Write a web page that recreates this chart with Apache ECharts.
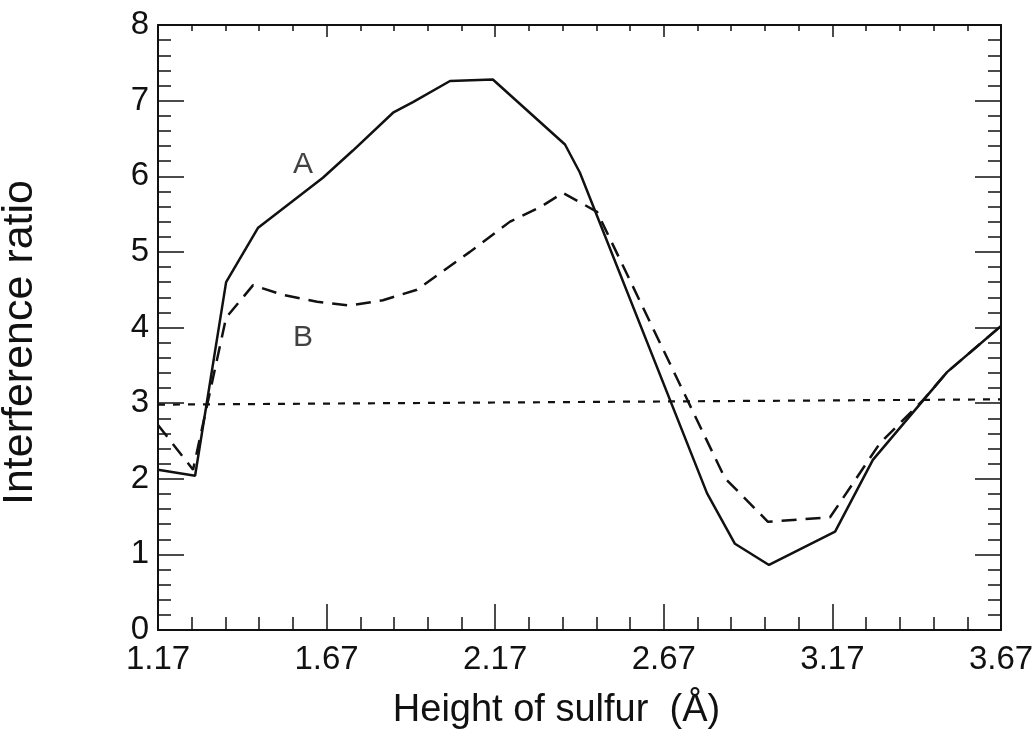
<!DOCTYPE html>
<html>
<head>
<meta charset="utf-8">
<title>Interference ratio</title>
<script src="https://cdn.jsdelivr.net/npm/echarts@6/dist/echarts.min.js"></script>
<style>
    html, body { margin: 0; padding: 0; background: #fff; }
    #main { width: 1033px; height: 748px; }
</style>
</head>
<body>
<div id="main"></div>
<script>
// curve A (solid), [height, ratio]
var curveA = [
    [1.17, 2.12], [1.28, 2.04], [1.372, 4.60], [1.467, 5.32], [1.659, 5.98],
    [1.748, 6.34], [1.867, 6.84], [1.926, 6.98], [2.036, 7.26], [2.163, 7.28],
    [2.377, 6.42], [2.421, 6.05], [2.798, 1.81], [2.881, 1.14], [2.982, 0.86],
    [3.178, 1.30], [3.29, 2.25], [3.51, 3.41], [3.67, 4.02]
];
// curve B (dashed)
var curveB = [
    [1.17, 2.71], [1.274, 2.12], [1.372, 4.13], [1.452, 4.56], [1.541, 4.43],
    [1.642, 4.34], [1.739, 4.29], [1.837, 4.36], [1.938, 4.50], [2.095, 5.00],
    [2.214, 5.40], [2.303, 5.59], [2.371, 5.78], [2.472, 5.53], [2.851, 2.01],
    [2.979, 1.43], [3.163, 1.49], [3.311, 2.47], [3.439, 3.04], [3.51, 3.41],
    [3.67, 4.02]
];
// dotted reference line near ratio 3
var refLine = [[1.17, 2.98], [3.67, 3.05]];
// curve names placed on the plot
var curveTags = [
    { name: 'A', value: [1.60, 6.15] },
    { name: 'B', value: [1.60, 3.86] }
];

var fontFamily = '"Liberation Sans", Arial, Helvetica, sans-serif';
var ink = '#111';

var myChart = echarts.init(document.getElementById('main'));

// one side of the box: bottom/left carry labels, top gets short ticks
function frameAxis(isX, pos, showLabel, longTicks) {
    var axis = {
        type: 'value',
        position: pos,
        axisLine: { show: true, onZero: false, lineStyle: { color: ink, width: 2 } },
        axisTick: { show: true, inside: true, length: longTicks ? 26 : 12, lineStyle: { color: ink, width: 1.5 } },
        minorTick: { show: true, splitNumber: 5, length: longTicks ? 13 : 6, lineStyle: { color: ink, width: 1.5 } },
        splitLine: { show: false },
        axisLabel: { show: showLabel, color: ink, fontFamily: fontFamily, fontSize: 33 }
    };
    if (isX) {
        axis.min = 1.17;
        axis.max = 3.67;
        axis.interval = 0.5;
        axis.axisLabel.margin = 13;
        axis.axisLabel.formatter = function (v) { return v.toFixed(2); };
    } else {
        axis.min = 0;
        axis.max = 8;
        axis.interval = 1;
        axis.axisLabel.margin = 9;
    }
    return axis;
}

var xBottom = frameAxis(true, 'bottom', true, true);
xBottom.name = 'Height of sulfur  (Å)';
xBottom.nameLocation = 'middle';
xBottom.nameGap = 62;
xBottom.nameTextStyle = { color: ink, fontFamily: fontFamily, fontSize: 38, padding: [0, 46, 0, 0] };

var yLeft = frameAxis(false, 'left', true, true);
yLeft.name = 'Interference ratio';
yLeft.nameLocation = 'middle';
yLeft.nameGap = 116;
yLeft.nameTextStyle = { color: ink, fontFamily: fontFamily, fontSize: 43, padding: [0, 30, 0, 0] };

var option = {
    backgroundColor: '#fff',
    animation: false,
    grid: { left: 158, right: 32, top: 25, bottom: 118, containLabel: false, outerBoundsMode: 'none' },
    xAxis: [xBottom, frameAxis(true, 'top', false, false)],
    yAxis: [yLeft, frameAxis(false, 'right', false, true)],
    series: [
        {
            name: 'A',
            type: 'line',
            data: curveA,
            symbol: 'none',
            lineStyle: { color: ink, width: 2.5 }
        },
        {
            name: 'B',
            type: 'line',
            data: curveB,
            symbol: 'none',
            lineStyle: { color: ink, width: 2.5, type: [15, 9] }
        },
        {
            name: 'ref',
            type: 'line',
            data: refLine,
            symbol: 'none',
            lineStyle: { color: ink, width: 2.2, type: [7, 8] }
        },
        {
            name: 'tags',
            type: 'scatter',
            data: curveTags,
            symbolSize: 0,
            label: {
                show: true,
                position: 'inside',
                formatter: '{b}',
                color: ink,
                fontFamily: fontFamily,
                fontSize: 30
            }
        }
    ]
};

myChart.setOption(option, true);
</script>
</body>
</html>
